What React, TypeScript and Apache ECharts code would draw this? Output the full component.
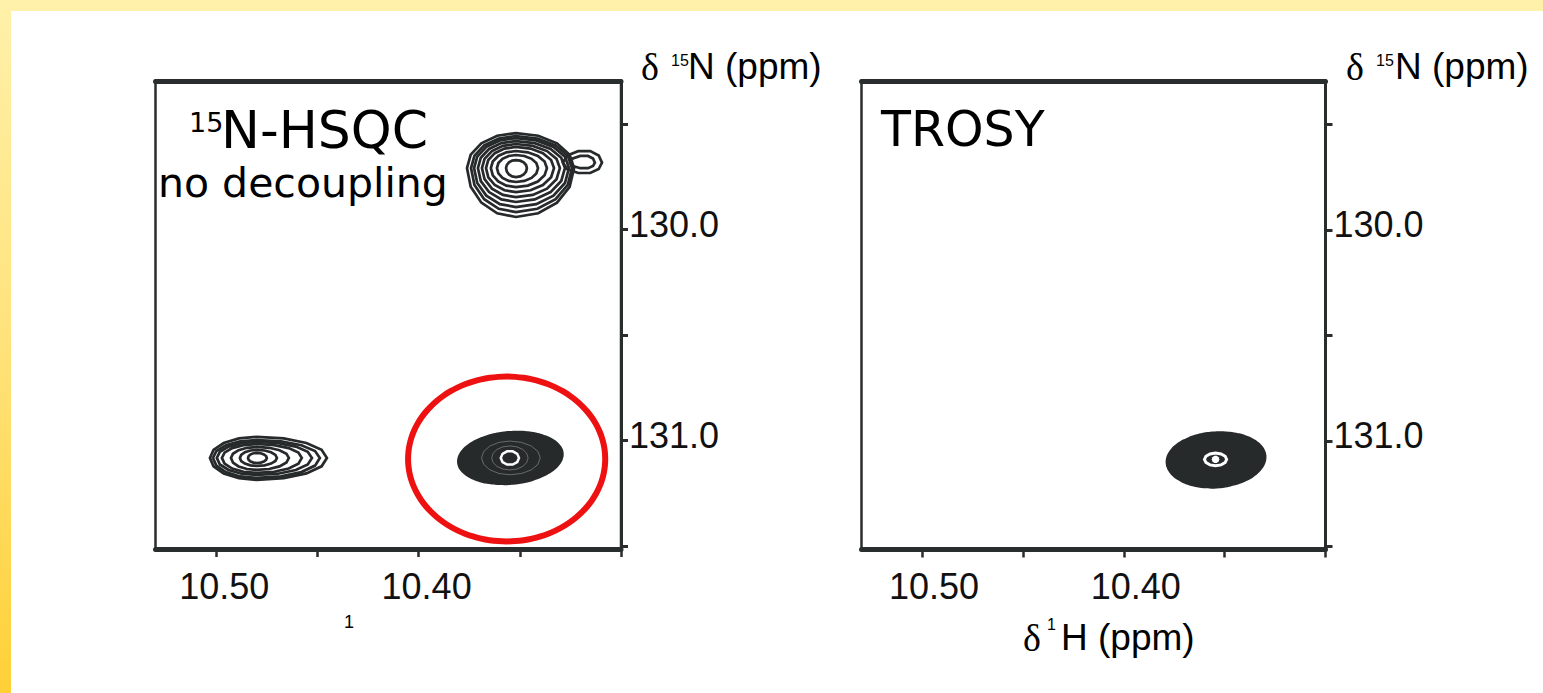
import React, { useEffect, useRef } from "react";
import * as echarts from "echarts";

// Axis ranges (ppm)
const X_MIN = 10.3;
const X_MAX = 10.53;
const Y_MIN = 129.295;
const Y_MAX = 131.515;
const xTickValues = [10.3, 10.35, 10.4, 10.45, 10.5];
const xLabelValues = [10.5, 10.4];
const yTickValues = [129.5, 130.0, 130.5, 131.0, 131.5];
const yLabelValues = [130.0, 131.0];

// Contour levels: [δH centre, δN centre, half-width left, half-width right, half-height up, half-height down] (ppm)
const hsqcPeakTop = [
  [10.3519, 129.708, 0.0049, 0.0054, 0.038, 0.043],
  [10.3519, 129.708, 0.0094, 0.0109, 0.062, 0.066],
  [10.3519, 129.708, 0.0124, 0.0153, 0.081, 0.09],
  [10.3519, 129.708, 0.0148, 0.0188, 0.1, 0.114],
  [10.3519, 129.708, 0.0168, 0.0217, 0.114, 0.138],
  [10.3519, 129.708, 0.0188, 0.0242, 0.128, 0.161],
  [10.3519, 129.708, 0.0207, 0.0262, 0.142, 0.185],
  [10.3519, 129.708, 0.0222, 0.0277, 0.152, 0.209],
  [10.3519, 129.708, 0.0242, 0.0287, 0.166, 0.232],
];
const hsqcPeakTopShoulder = [
  [10.3178, 129.682, 0.0109, 0.0084, 0.057, 0.052],
  [10.3178, 129.682, 0.0074, 0.0049, 0.033, 0.028],
];
const hsqcPeakLeft = [
  [10.4799, 131.083, 0.0044, 0.0049, 0.024, 0.024],
  [10.4799, 131.083, 0.0084, 0.0099, 0.038, 0.038],
  [10.4799, 131.083, 0.0128, 0.0158, 0.052, 0.057],
  [10.4799, 131.083, 0.0173, 0.0222, 0.066, 0.071],
  [10.4799, 131.083, 0.0198, 0.0272, 0.076, 0.081],
  [10.4799, 131.083, 0.0217, 0.0311, 0.085, 0.095],
  [10.4799, 131.083, 0.0232, 0.0346, 0.1, 0.104],
];
const hsqcPeakCircledBody = [[10.3549, 131.083, 0.0262, 0.0267, 0.128, 0.128]];
const hsqcPeakCircledCore = [[10.3549, 131.083, 0.0045, 0.0045, 0.033, 0.033]];
const hsqcPeakCircledFaint = [
  [10.3549, 131.083, 0.009, 0.009, 0.057, 0.057],
  [10.3549, 131.083, 0.014, 0.015, 0.08, 0.08],
];
const highlightCircle = [[10.3565, 131.088, 0.0487, 0.0487, 0.391, 0.391]];

const trosyPeakBody = [[10.3545, 131.088, 0.0248, 0.0253, 0.133, 0.138]];
const trosyPeakCore = [[10.3545, 131.088, 0.0055, 0.0055, 0.03, 0.03]];
const trosyPeakCentre = [[10.3545, 131.088, 0.0019, 0.0019, 0.018, 0.018]];

type RenderOpts = {
  stroke?: string;
  fill?: string;
  lineWidth?: number;
  tilt?: number;
  n?: number;
  smooth?: number;
  opacity?: number;
};

function contourRenderer(o: RenderOpts) {
  return (params: any, api: any) => {
    const c = api.coord([api.value(0), api.value(1)]);
    const a = api.size([api.value(2), api.value(4)]);
    const b = api.size([api.value(3), api.value(5)]);
    const n = o.n ?? 16;
    const t = o.tilt ?? 0;
    const pts: number[][] = [];
    for (let k = 0; k < n; k++) {
      const ang = (2 * Math.PI * k) / n;
      const cs = Math.cos(ang);
      const sn = Math.sin(ang);
      const rx = Math.abs(cs >= 0 ? b[0] : a[0]);
      const ry = Math.abs(sn >= 0 ? b[1] : a[1]);
      const dx = rx * cs;
      const dy = ry * sn;
      pts.push([
        c[0] + dx * Math.cos(t) - dy * Math.sin(t),
        c[1] + dx * Math.sin(t) + dy * Math.cos(t),
      ]);
    }
    return {
      type: "polygon",
      shape: { points: pts, smooth: o.smooth ?? 0 },
      style: {
        fill: o.fill ?? "none",
        stroke: o.stroke ?? "none",
        lineWidth: o.lineWidth ?? 0,
        opacity: o.opacity ?? 1,
      },
    };
  };
}

const INK = "#262a2b";
const AXIS = "#2a2d2e";

function makeX(gridIndex: number, padLeft: number) {
  return {
    type: "value",
    gridIndex,
    min: X_MIN,
    max: X_MAX,
    inverse: true,
    position: "bottom",
    splitLine: { show: false },
    axisLine: { show: true, onZero: false, lineStyle: { color: AXIS, width: 5 } },
    axisTick: {
      show: true,
      inside: false,
      length: 8,
      customValues: xTickValues,
      lineStyle: { color: AXIS, width: 2.5 },
    },
    axisLabel: {
      show: true,
      customValues: xLabelValues,
      formatter: (v: number) => v.toFixed(2),
      fontSize: 36,
      lineHeight: 36,
      fontFamily: "Liberation Sans, Arial, sans-serif",
      color: "#111",
      margin: 19,
      padding: [0, 0, 0, padLeft],
    },
  };
}

function makeXTop(gridIndex: number) {
  return {
    type: "value",
    gridIndex,
    min: X_MIN,
    max: X_MAX,
    inverse: true,
    position: "top",
    splitLine: { show: false },
    axisLine: { show: true, onZero: false, lineStyle: { color: AXIS, width: 5 } },
    axisTick: { show: false },
    axisLabel: { show: false },
  };
}

function makeY(gridIndex: number) {
  return {
    type: "value",
    gridIndex,
    min: Y_MIN,
    max: Y_MAX,
    inverse: true,
    position: "right",
    splitLine: { show: false },
    axisLine: { show: true, onZero: false, lineStyle: { color: AXIS, width: 3 } },
    axisTick: {
      show: true,
      inside: false,
      length: 7,
      customValues: yTickValues,
      lineStyle: { color: AXIS, width: 3 },
    },
    axisLabel: {
      show: true,
      customValues: yLabelValues,
      formatter: (v: number) => v.toFixed(1),
      fontSize: 36,
      lineHeight: 10,
      verticalAlign: "bottom",
      fontFamily: "Liberation Sans, Arial, sans-serif",
      color: "#111",
      margin: 8,
    },
  };
}

function series(
  data: number[][],
  axisIndex: number,
  o: RenderOpts,
  z: number
) {
  return {
    type: "custom",
    xAxisIndex: axisIndex,
    yAxisIndex: axisIndex,
    data,
    encode: { x: 0, y: 1 },
    renderItem: contourRenderer(o),
    silent: true,
    clip: false,
    z,
  };
}

function txt(
  x: number,
  y: number,
  text: string,
  fontSize: number,
  fontFamily: string
) {
  return {
    type: "text",
    x,
    y,
    silent: true,
    z: 10,
    style: {
      text,
      fontSize,
      fontFamily,
      fill: "#000",
      align: "left",
      verticalAlign: "middle",
      textAlign: "left",
      textVerticalAlign: "middle",
    },
  };
}

const SANS = "Liberation Sans, Arial, sans-serif";
const SERIF = "Liberation Serif, Times New Roman, serif";
const HAND = "Comic Sans MS, DejaVu Sans, sans-serif";

export default function App() {
  const ref = useRef<HTMLDivElement>(null);
  useEffect(() => {
    if (!ref.current) return;
    const chart = echarts.init(ref.current, undefined, { renderer: "svg" });
    const lineOpts = { stroke: INK, lineWidth: 2.7, n: 16 };
    chart.setOption({
      animation: false,
      backgroundColor: "#ffffff",
      grid: [
        {
          left: 155.5,
          top: 81,
          width: 465.5,
          height: 468,
          show: true,
          borderColor: AXIS,
          borderWidth: 2.5,
          backgroundColor: "transparent",
          outerBoundsMode: "none",
        },
        {
          left: 861.5,
          top: 81,
          width: 464,
          height: 468.5,
          show: true,
          borderColor: AXIS,
          borderWidth: 2.5,
          backgroundColor: "transparent",
          outerBoundsMode: "none",
        },
      ],
      xAxis: [makeX(0, 16), makeX(1, 24), makeXTop(0), makeXTop(1)],
      yAxis: [makeY(0), makeY(1)],
      series: [
        series(hsqcPeakTop, 0, lineOpts, 2),
        series(hsqcPeakTopShoulder, 0, { stroke: INK, lineWidth: 2.7, n: 10 }, 2),
        series(hsqcPeakLeft, 0, lineOpts, 2),
        series(hsqcPeakCircledBody, 0, { fill: INK, n: 48, smooth: 0.2, tilt: -0.09 }, 2),
        series(hsqcPeakCircledFaint, 0, { stroke: "#ffffff", lineWidth: 1, n: 16, opacity: 0.3 }, 3),
        series(hsqcPeakCircledCore, 0, { stroke: "#ffffff", lineWidth: 2.5, n: 10 }, 4),
        series(highlightCircle, 0, { stroke: "#ee1111", lineWidth: 6, n: 72, smooth: 0.3 }, 5),
        series(trosyPeakBody, 1, { fill: INK, n: 48, smooth: 0.2, tilt: -0.07 }, 2),
        series(trosyPeakCore, 1, { stroke: "#ffffff", lineWidth: 3, n: 12 }, 4),
        series(trosyPeakCentre, 1, { fill: "#ffffff", n: 10 }, 4),
      ],
      graphic: [
        {
          type: "rect",
          silent: true,
          z: 0,
          shape: { x: 0, y: 0, width: 1543, height: 11 },
          style: { fill: "#FFF1AA" },
        },
        {
          type: "rect",
          silent: true,
          z: 0,
          shape: { x: 0, y: 0, width: 11, height: 693 },
          style: {
            fill: new echarts.graphic.LinearGradient(0, 0, 0, 1, [
              { offset: 0, color: "#FFF1AA" },
              { offset: 0.5, color: "#FFE27A" },
              { offset: 1, color: "#FFD037" },
            ]),
          },
        },
        // panel labels
        txt(189, 122.5, "15", 27, HAND),
        txt(221, 130, "N-HSQC", 52, HAND),
        txt(158, 183, "no decoupling", 41, HAND),
        txt(881, 129, "TROSY", 49, HAND),
        // axis titles
        txt(641, 67, "δ", 38, SERIF),
        txt(671, 60.5, "15", 16, SANS),
        txt(688, 66.5, "N (ppm)", 37, SANS),
        txt(1346, 67, "δ", 38, SERIF),
        txt(1376, 60.5, "15", 16, SANS),
        txt(1395, 66.5, "N (ppm)", 37, SANS),
        txt(1023, 638, "δ", 38, SERIF),
        txt(1047, 624.5, "1", 16, SANS),
        txt(1061, 637.5, "H (ppm)", 37, SANS),
        txt(344, 621.5, "1", 18, SANS),
      ],
    });
    return () => chart.dispose();
  }, []);
  return (
    <div
      ref={ref}
      style={{ position: "fixed", left: 0, top: 0, width: 1543, height: 693 }}
    />
  );
}
